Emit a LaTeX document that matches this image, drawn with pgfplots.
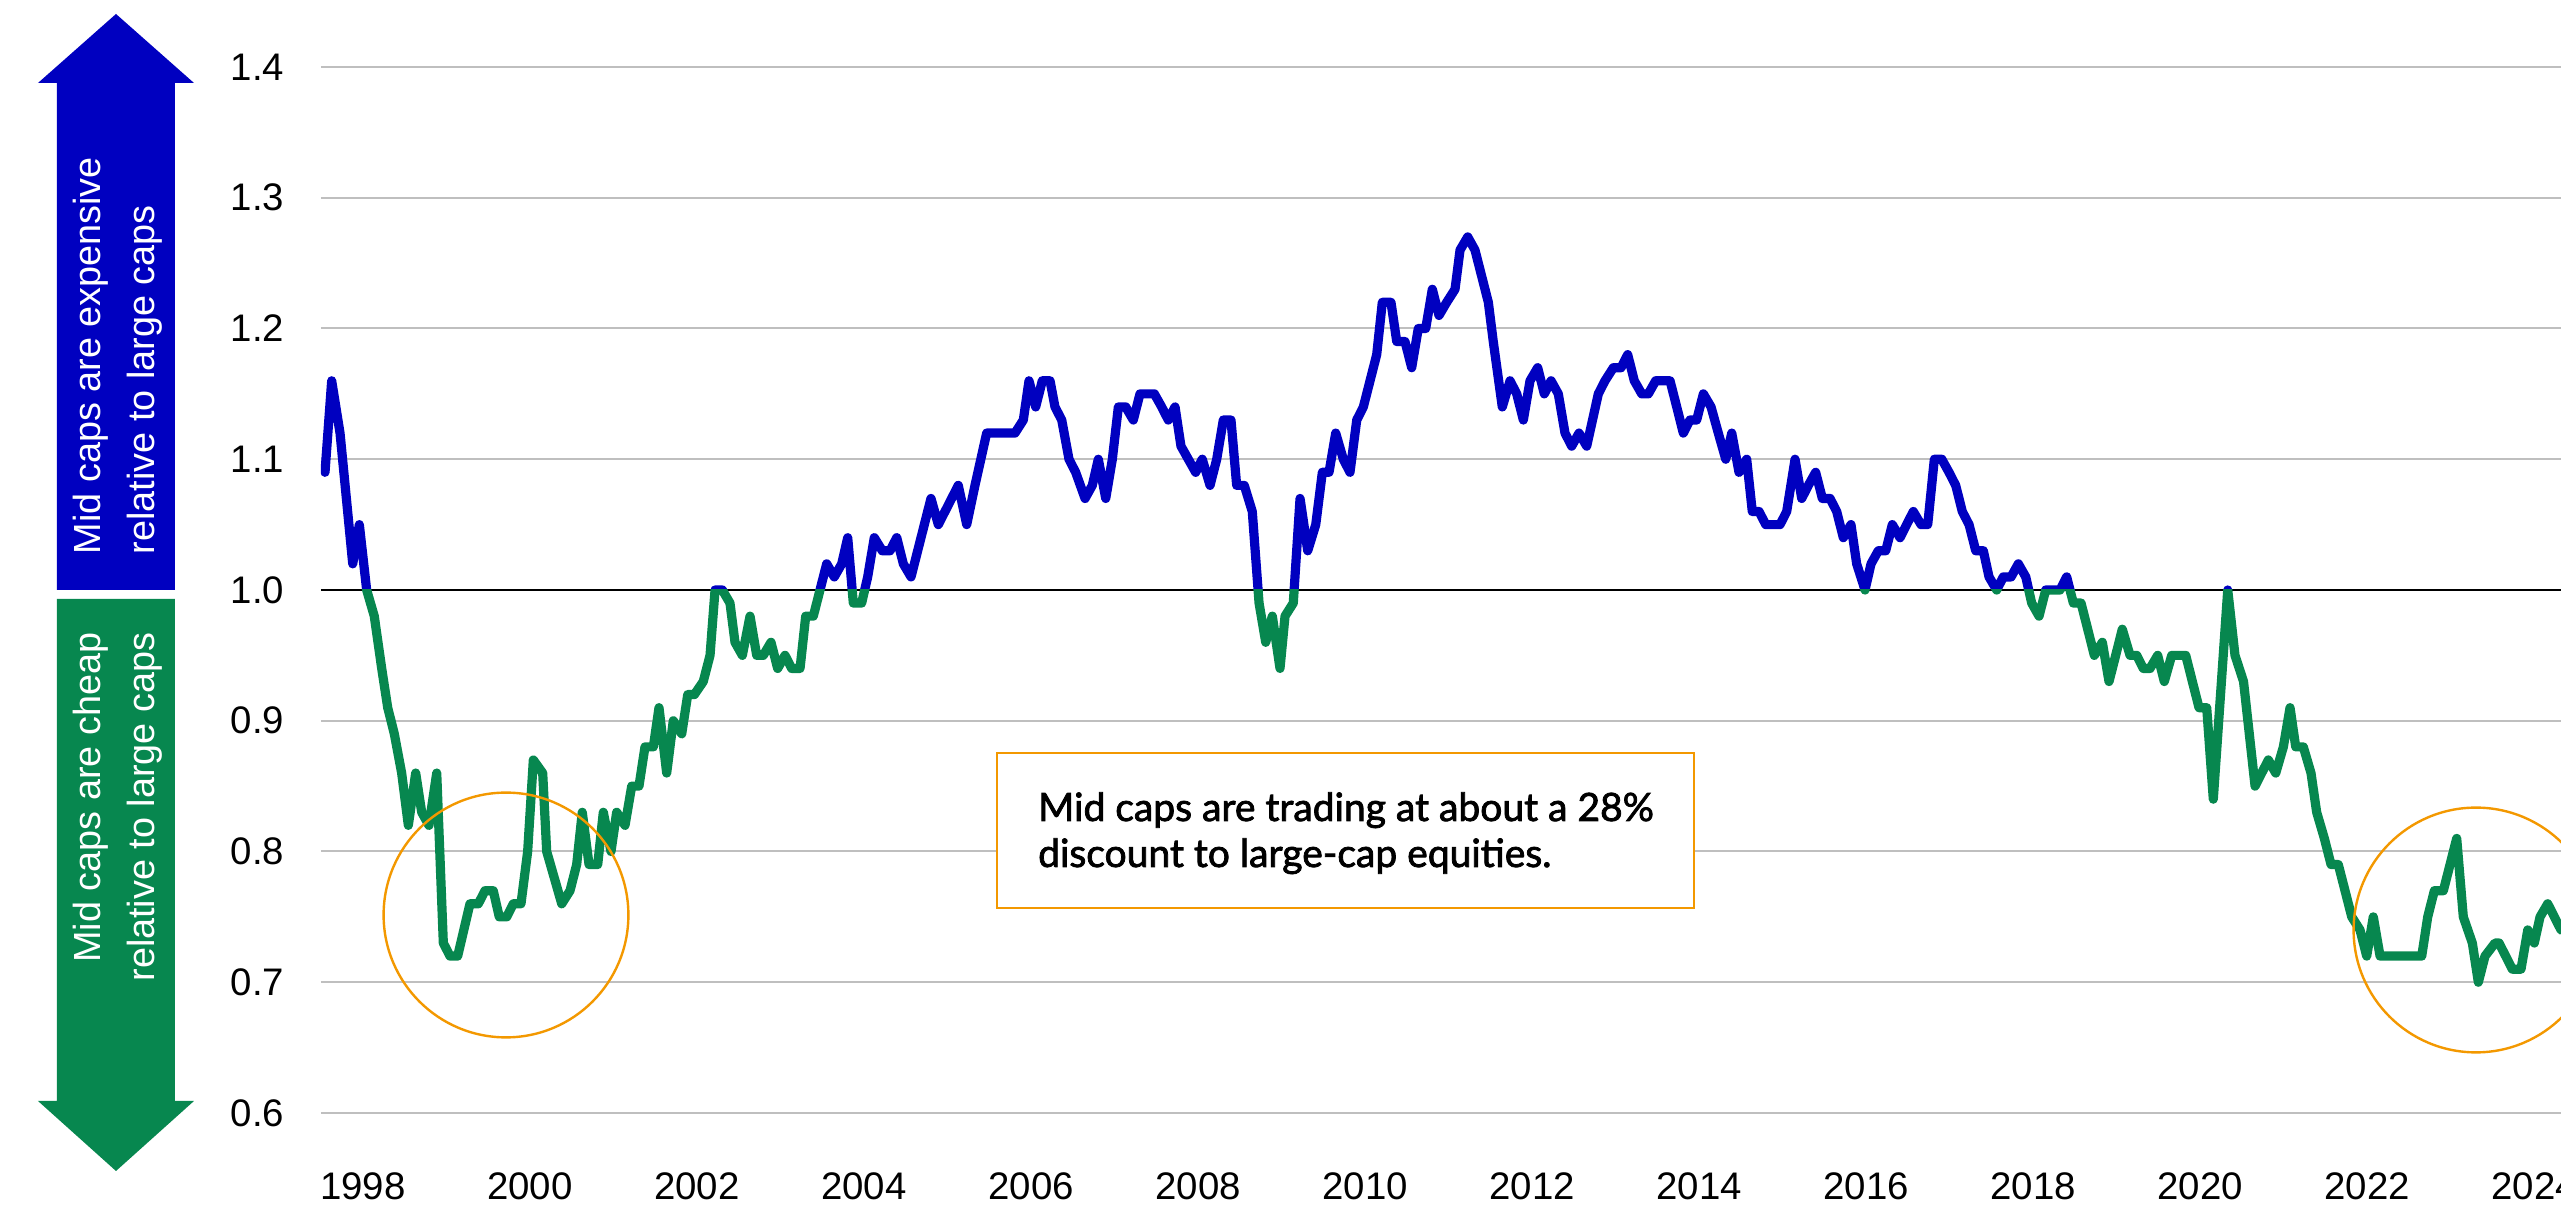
\documentclass[border=0pt]{standalone}
\usepackage{fontspec}
\setmainfont{Liberation Sans}
\newfontfamily\annfont[FakeBold=2]{Lato}
\usepackage{pgfplots}
\usepackage{pgfplotstable}
\pgfplotsset{compat=1.18}
\definecolor{capblue}{HTML}{0000C0}
\definecolor{capgreen}{HTML}{07874F}
\definecolor{caporange}{HTML}{F39800}
\definecolor{gridgray}{HTML}{BFBFBF}

\pgfplotstableread{
year ratio
1997.545 1.09
1997.625 1.16
1997.725 1.12
1997.877 1.02
1997.956 1.05
1998.044 1.00
1998.135 0.98
1998.224 0.94
1998.296 0.91
1998.375 0.89
1998.463 0.86
1998.543 0.82
1998.631 0.86
1998.703 0.83
1998.790 0.82
1998.883 0.86
1998.962 0.73
1999.042 0.72
1999.134 0.72
1999.281 0.76
1999.381 0.76
1999.461 0.77
1999.560 0.77
1999.632 0.75
1999.721 0.75
1999.800 0.76
1999.892 0.76
1999.972 0.80
2000.040 0.87
2000.152 0.86
2000.200 0.80
2000.380 0.76
2000.479 0.77
2000.559 0.79
2000.626 0.83
2000.707 0.79
2000.811 0.79
2000.878 0.83
2000.970 0.80
2001.038 0.83
2001.138 0.82
2001.218 0.85
2001.305 0.85
2001.377 0.88
2001.477 0.88
2001.545 0.91
2001.637 0.86
2001.716 0.90
2001.817 0.89
2001.889 0.92
2001.968 0.92
2002.075 0.93
2002.156 0.95
2002.216 1.00
2002.303 1.00
2002.395 0.99
2002.455 0.96
2002.543 0.95
2002.635 0.98
2002.715 0.95
2002.794 0.95
2002.886 0.96
2002.966 0.94
2003.054 0.95
2003.134 0.94
2003.234 0.94
2003.302 0.98
2003.393 0.98
2003.473 1.00
2003.553 1.02
2003.644 1.01
2003.733 1.02
2003.805 1.04
2003.872 0.99
2003.972 0.99
2004.044 1.01
2004.123 1.04
2004.219 1.03
2004.311 1.03
2004.392 1.04
2004.471 1.02
2004.563 1.01
2004.802 1.07
2004.890 1.05
2005.129 1.08
2005.230 1.05
2005.329 1.08
2005.469 1.12
2005.808 1.12
2005.908 1.13
2005.976 1.16
2006.056 1.14
2006.135 1.16
2006.228 1.16
2006.287 1.14
2006.368 1.13
2006.455 1.10
2006.535 1.09
2006.647 1.07
2006.734 1.08
2006.806 1.10
2006.895 1.07
2006.974 1.10
2007.046 1.14
2007.134 1.14
2007.225 1.13
2007.305 1.15
2007.477 1.15
2007.565 1.14
2007.644 1.13
2007.725 1.14
2007.796 1.11
2007.884 1.10
2007.972 1.09
2008.051 1.10
2008.144 1.08
2008.224 1.10
2008.303 1.13
2008.395 1.13
2008.463 1.08
2008.554 1.08
2008.650 1.06
2008.731 0.99
2008.811 0.96
2008.890 0.98
2008.982 0.94
2009.042 0.98
2009.141 0.99
2009.222 1.07
2009.314 1.03
2009.410 1.05
2009.489 1.09
2009.569 1.09
2009.649 1.12
2009.740 1.10
2009.820 1.09
2009.901 1.13
2009.980 1.14
2010.060 1.16
2010.140 1.18
2010.207 1.22
2010.311 1.22
2010.380 1.19
2010.479 1.19
2010.559 1.17
2010.638 1.20
2010.727 1.20
2010.806 1.23
2010.886 1.21
2010.978 1.22
2011.078 1.23
2011.138 1.26
2011.230 1.27
2011.317 1.26
2011.397 1.24
2011.477 1.22
2011.536 1.19
2011.644 1.14
2011.737 1.16
2011.817 1.15
2011.896 1.13
2011.976 1.16
2012.068 1.17
2012.147 1.15
2012.228 1.16
2012.315 1.15
2012.395 1.12
2012.475 1.11
2012.563 1.12
2012.655 1.11
2012.794 1.15
2012.874 1.16
2012.974 1.17
2013.066 1.17
2013.146 1.18
2013.225 1.16
2013.314 1.15
2013.393 1.15
2013.481 1.16
2013.653 1.16
2013.733 1.14
2013.812 1.12
2013.892 1.13
2013.972 1.13
2014.052 1.15
2014.144 1.14
2014.231 1.12
2014.320 1.10
2014.392 1.12
2014.479 1.09
2014.571 1.10
2014.638 1.06
2014.719 1.06
2014.799 1.05
2014.970 1.05
2015.050 1.06
2015.150 1.10
2015.230 1.07
2015.309 1.08
2015.397 1.09
2015.477 1.07
2015.569 1.07
2015.649 1.06
2015.728 1.04
2015.820 1.05
2015.888 1.02
2015.988 1.00
2016.060 1.02
2016.147 1.03
2016.236 1.03
2016.315 1.05
2016.407 1.04
2016.566 1.06
2016.659 1.05
2016.739 1.05
2016.818 1.10
2016.907 1.10
2016.994 1.09
2017.074 1.08
2017.153 1.06
2017.234 1.05
2017.314 1.03
2017.405 1.03
2017.473 1.01
2017.565 1.00
2017.644 1.01
2017.737 1.01
2017.824 1.02
2017.913 1.01
2017.984 0.99
2018.072 0.98
2018.152 1.00
2018.323 1.00
2018.403 1.01
2018.483 0.99
2018.575 0.99
2018.655 0.97
2018.734 0.95
2018.830 0.96
2018.910 0.93
2018.990 0.95
2019.069 0.97
2019.162 0.95
2019.242 0.95
2019.321 0.94
2019.401 0.94
2019.493 0.95
2019.572 0.93
2019.661 0.95
2019.829 0.95
2019.908 0.93
2019.988 0.91
2020.080 0.91
2020.159 0.84
2020.332 1.00
2020.419 0.95
2020.521 0.93
2020.659 0.85
2020.818 0.87
2020.907 0.86
2020.998 0.88
2021.078 0.91
2021.146 0.88
2021.237 0.88
2021.329 0.86
2021.397 0.83
2021.489 0.81
2021.569 0.79
2021.656 0.79
2021.817 0.75
2021.916 0.74
2021.996 0.72
2022.075 0.75
2022.156 0.72
2022.655 0.72
2022.727 0.75
2022.806 0.77
2022.914 0.77
2022.994 0.79
2023.074 0.81
2023.153 0.75
2023.261 0.73
2023.333 0.70
2023.413 0.72
2023.533 0.73
2023.581 0.73
2023.740 0.71
2023.844 0.71
2023.925 0.74
2024.003 0.73
2024.072 0.75
2024.164 0.76
2024.323 0.74
}\ratiodata

\begin{document}
\begin{tikzpicture}
\useasboundingbox (-80.25pt,-24.25pt) rectangle (560pt,278.25pt);
\pgfplotsset{common/.style={
  scale only axis, width=560pt,
  xmin=1997.497, xmax=2024.323,
  anchor=south west}}
% main axis: grid and labels
\begin{axis}[common, at={(0pt,0pt)}, height=261.5pt,
  ymin=0.6, ymax=1.4,
  axis line style={draw=none},
  ytick={0.6,0.7,0.8,0.9,1.0,1.1,1.2,1.3,1.4},
  xtick={1998,2000,2002,2004,2006,2008,2010,2012,2014,2016,2018,2020,2022,2024},
  ymajorgrids, grid style={gridgray, line width=0.5pt},
  major tick length=0pt,
  /pgf/number format/assume math mode=true,
  /pgf/number format/1000 sep={},
  tick label style={font=\fontsize{9.6}{11}\selectfont, inner sep=0pt, text=black},
  yticklabel style={xshift=-9pt, /pgf/number format/.cd, fixed, fixed zerofill, precision=1},
  xticklabel style={yshift=-14.75pt},
]
\draw[black, line width=0.5pt] (axis cs:1997.497,1) -- (axis cs:2024.323,1);
\end{axis}
% upper part (blue)
\begin{axis}[common, at={(0pt,130.75pt)}, height=130.75pt, ymin=1.0, ymax=1.4, hide axis]
\addplot[capblue, line width=2.3pt, line join=round, line cap=round] table[x=year, y=ratio] {\ratiodata};
\end{axis}
% lower part (green)
\begin{axis}[common, at={(0pt,0pt)}, height=130.75pt, ymin=0.6, ymax=1.0, hide axis]
\addplot[capgreen, line width=2.3pt, line join=round, line cap=round] table[x=year, y=ratio] {\ratiodata};
\end{axis}
% annotation box
\draw[caporange, line width=0.65pt, fill=white] (169pt,51.25pt) rectangle (343.25pt,90pt);
\node[anchor=base west, inner sep=0pt, font=\annfont\fontsize{9.75}{12}\selectfont] at (179.1pt,73pt) {Mid caps are trading at about a 28\%};
\node[anchor=base west, inner sep=0pt, font=\annfont\fontsize{9.75}{12}\selectfont] at (179.1pt,61.5pt) {discount to large-cap equities.};
% circles
\draw[caporange, line width=0.6pt] (46.25pt,49.5pt) circle[radius=30.6pt];
\draw[caporange, line width=0.6pt] (538.75pt,45.75pt) circle[radius=30.6pt];
% arrows
\fill[capblue] (-70.75pt,257.5pt) -- (-51.25pt,274.75pt) -- (-31.75pt,257.5pt) -- (-36.5pt,257.5pt) -- (-36.5pt,130.75pt) -- (-66pt,130.75pt) -- (-66pt,257.5pt) -- cycle;
\fill[capgreen] (-66pt,128.5pt) -- (-36.5pt,128.5pt) -- (-36.5pt,3pt) -- (-31.75pt,3pt) -- (-51.25pt,-14.5pt) -- (-70.75pt,3pt) -- (-66pt,3pt) -- cycle;
\begin{scope}[every node/.style={rotate=90, inner sep=0pt, text=white, font=\fontsize{9.45}{11}\selectfont}]
\node[anchor=base west] at (-55pt,139.5pt) {Mid caps are expensive};
\node[anchor=base west] at (-41.5pt,139.5pt) {relative to large caps};
\node[anchor=base east] at (-55pt,120.25pt) {Mid caps are cheap};
\node[anchor=base east] at (-41.5pt,120.25pt) {relative to large caps};
\end{scope}
\end{tikzpicture}
\end{document}
